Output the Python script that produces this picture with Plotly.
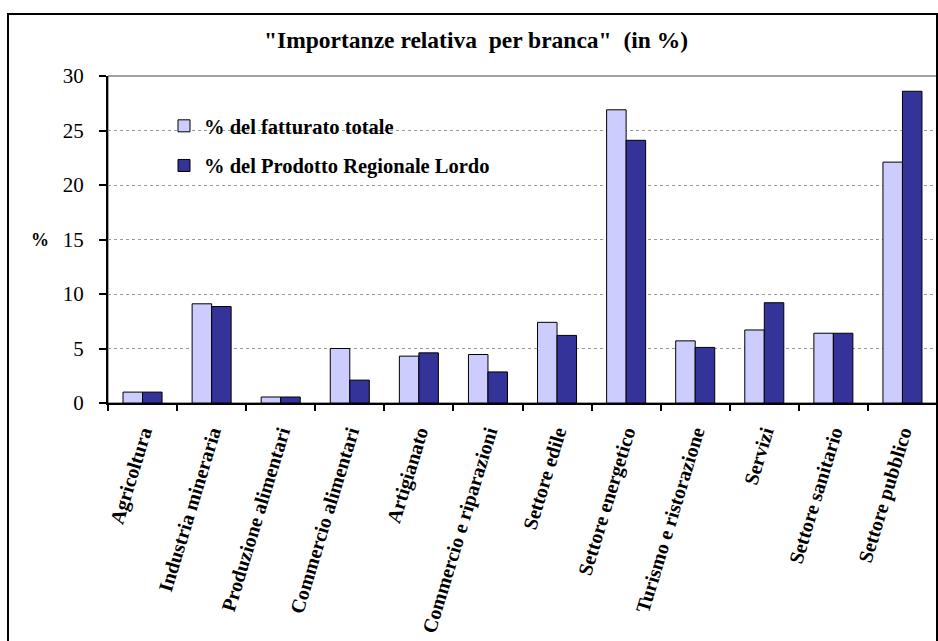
import plotly.graph_objects as go

# Branches of activity and their relative weight (%)
branche = [
    "Agricoltura", "Industria mineraria", "Produzione alimentari",
    "Commercio alimentari", "Artigianato", "Commercio e riparazioni",
    "Settore edile", "Settore energetico", "Turismo e ristorazione",
    "Servizi", "Settore sanitario", "Settore pubblico",
]
fatturato = [1.0, 9.1, 0.55, 5.0, 4.3, 4.45, 7.4, 26.9, 5.7, 6.7, 6.4, 22.1]
prodotto_regionale = [1.0, 8.85, 0.55, 2.1, 4.6, 2.85, 6.2, 24.1, 5.1, 9.2, 6.4, 28.6]
y_ticks = [0, 5, 10, 15, 20, 25, 30]

SERIF = '"Liberation Serif", "Times New Roman", serif'
W, H = 938, 641
L, R, T, B = 108, 1, 76, 238
pw, ph = W - L - R, H - T - B


def px_x(x):
    return (x - L) / pw


def px_y(y):
    return 1 - (y - T) / ph


fig = go.Figure()
fig.add_trace(go.Bar(
    x=branche, y=fatturato, name="% del fatturato totale",
    marker=dict(color="#CCCCFF", line=dict(color="black", width=1)),
    legendgroup="a",
))
fig.add_trace(go.Bar(
    x=branche, y=prodotto_regionale, name="% del Prodotto Regionale Lordo",
    marker=dict(color="#333399", line=dict(color="black", width=1)),
    legendgroup="b",
))

fig.update_layout(
    width=W, height=H,
    margin=dict(l=L, r=R, t=T, b=B),
    paper_bgcolor="white", plot_bgcolor="white",
    barmode="group", bargap=0.435, bargroupgap=0,
    font=dict(family=SERIF, color="black"),
    title=dict(
        text='"Importanze relativa\u00a0 per branca"\u00a0 (in %)',
        font=dict(family=SERIF, size=23.5, color="black", weight="bold"),
        x=476 / W, xanchor="center", y=1 - 40 / H, yanchor="middle",
    ),
    legend=dict(
        x=px_x(164), y=px_y(106), xanchor="left", yanchor="top",
        bgcolor="rgba(0,0,0,0)", tracegroupgap=10,
        font=dict(family=SERIF, size=20.5, color="black", weight="bold"),
    ),
    showlegend=True,
)

fig.update_xaxes(
    showline=True, linecolor="black", linewidth=2,
    ticks="outside", tickson="boundaries", ticklen=6, tickwidth=1.5, tickcolor="black",
    tickangle=-73, ticklabelstandoff=8,
    tickfont=dict(family=SERIF, size=20, color="black", weight="bold"),
    showgrid=False, zeroline=False,
)
fig.update_yaxes(
    range=[0, 30], tickvals=y_ticks,
    showline=True, linecolor="black", linewidth=2,
    ticks="outside", ticklen=7, tickwidth=1.5, tickcolor="black",
    ticklabelstandoff=11,
    tickfont=dict(family=SERIF, size=21, color="black"),
    showgrid=True, gridcolor="#9a9a9a", gridwidth=1, griddash="dot",
    zeroline=False,
)

# plot area frame, white area behind the legend, outer frame
fig.add_shape(type="rect", xref="paper", yref="paper", x0=0, x1=1, y0=0, y1=1,
              line=dict(color="#444444", width=1), layer="below")
fig.add_shape(type="rect", xref="paper", yref="paper",
              x0=0.002, x1=px_x(580), y0=px_y(178), y1=px_y(95),
              line=dict(width=0), fillcolor="white", layer="between")
fig.add_shape(type="rect", xref="paper", yref="paper",
              x0=px_x(8), x1=px_x(937), y0=px_y(700), y1=px_y(14),
              line=dict(color="black", width=2), layer="above")

fig.add_annotation(text="<b>%</b>", xref="paper", yref="paper",
                   x=px_x(40), y=px_y(240), xanchor="center", showarrow=False,
                   font=dict(family=SERIF, size=18, color="black"))

fig.write_html("out.html")
